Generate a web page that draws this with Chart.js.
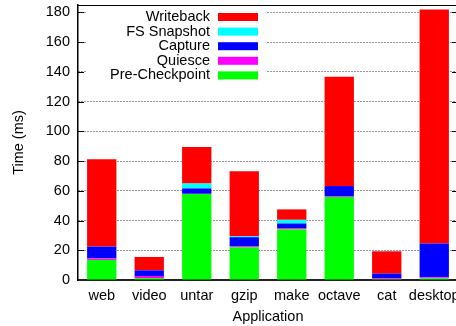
<!DOCTYPE html>
<html>
<head>
<meta charset="utf-8">
<script src="https://cdn.jsdelivr.net/npm/chart.js@4/dist/chart.umd.min.js"></script>
<style>
    html, body { margin: 0; padding: 0; background: #fff; overflow: hidden; }
    canvas { display: block; }
</style>
</head>
<body>
<canvas id="grafico" width="458" height="326"></canvas>
<script>
// Tempo de cada fase do checkpoint, por aplicação (ms)
const apps = ["web", "video", "untar", "gzip", "make", "octave", "cat", "desktop"];
const preCheckpoint = [13.5, 1.3, 57.8, 22.0, 34.2, 55.8, 0.6, 1.1];
const quiesce = [1.1, 1.4, 0.2, 0.7, 0.7, 0.5, 0.6, 0.7];
const capture = [7.9, 3.8, 3.6, 6.1, 3.1, 6.9, 3.1, 22.7];
const fsSnapshot = [0, 0, 3.3, 0.7, 2.5, 0, 0, 0];
const writeback = [58.8, 9.0, 24.6, 43.7, 7.0, 73.5, 15.0, 157.5];
const yTicks = [0, 20, 40, 60, 80, 100, 120, 140, 160, 180];

const fonte = "'Liberation Sans', Arial, sans-serif";
const tamanho = 14.5;

const series = [
    { label: "Pre-Checkpoint", data: preCheckpoint, cor: "#00ff00" },
    { label: "Quiesce", data: quiesce, cor: "#ff00ff" },
    { label: "Capture", data: capture, cor: "#0000ff" },
    { label: "FS Snapshot", data: fsSnapshot, cor: "#00ffff" },
    { label: "Writeback", data: writeback, cor: "#ff0000" }
];

// Legenda dentro do gráfico: fundo branco, texto alinhado à direita, caixa de cor ao lado
const legendaInterna = {
    id: "legendaInterna",
    afterDraw(chart) {
        const ctx = chart.ctx;
        ctx.save();
        ctx.fillStyle = "#fff";
        ctx.fillRect(86, 6, 180, 77);
        ctx.font = tamanho + "px " + fonte;
        ctx.textAlign = "right";
        ctx.textBaseline = "middle";
        const itens = series.slice().reverse();
        itens.forEach((s, i) => {
            const y = 17 + i * 14.6;
            ctx.fillStyle = "#000";
            ctx.fillText(s.label, 210, y);
            ctx.fillStyle = s.cor;
            ctx.fillRect(218, y - 4, 40, 8);
        });
        ctx.restore();
    }
};

// Moldura superior e marcas de escala para dentro
const moldura = {
    id: "moldura",
    afterDraw(chart) {
        const { ctx, chartArea } = chart;
        const y = chart.scales.y;
        ctx.save();
        ctx.strokeStyle = "#000";
        ctx.lineWidth = 1;
        ctx.beginPath();
        ctx.moveTo(chartArea.left, chartArea.top + 0.5);
        ctx.lineTo(chartArea.right, chartArea.top + 0.5);
        yTicks.forEach(v => {
            if (v === 0) return;
            const py = Math.round(y.getPixelForValue(v)) + 0.5;
            ctx.moveTo(chartArea.left, py);
            ctx.lineTo(chartArea.left + 6, py);
            ctx.moveTo(chartArea.right - 6, py);
            ctx.lineTo(chartArea.right, py);
        });
        ctx.stroke();
        ctx.restore();
    }
};

new Chart(document.getElementById("grafico"), {
    type: "bar",
    data: {
        labels: apps,
        datasets: series.map(s => ({
            label: s.label,
            data: s.data,
            backgroundColor: s.cor,
            borderWidth: 0,
            barPercentage: 0.617,
            categoryPercentage: 1
        }))
    },
    options: {
        responsive: false,
        animation: false,
        layout: { padding: { top: 5, left: 0, right: 0, bottom: 0 } },
        plugins: {
            legend: { display: false },
            tooltip: { enabled: false }
        },
        scales: {
            x: {
                stacked: true,
                grid: { display: false, drawTicks: false },
                border: { display: true, color: "#222", width: 2 },
                ticks: {
                    color: "#000",
                    font: { family: fonte, size: tamanho },
                    padding: 7,
                    maxRotation: 0,
                    autoSkip: false
                },
                title: {
                    display: true,
                    text: "Application",
                    color: "#000",
                    font: { family: fonte, size: tamanho },
                    padding: { top: 1.6, bottom: 0 }
                },
                afterFit(scale) {
                    scale.height = 46;
                    scale.paddingLeft = 0;
                    scale.paddingRight = 0;
                }
            },
            y: {
                stacked: true,
                min: 0,
                max: 185,
                afterBuildTicks(scale) {
                    scale.ticks = yTicks.map(v => ({ value: v }));
                },
                grid: {
                    color: ctx => ctx.tick && ctx.tick.value === 0 ? "rgba(0,0,0,0)" : "#333",
                    lineWidth: 1,
                    drawTicks: false
                },
                border: { display: true, color: "#000", width: 1.5, dash: [1, 2] },
                ticks: {
                    color: "#000",
                    font: { family: fonte, size: tamanho },
                    padding: 8
                },
                title: {
                    display: true,
                    text: "Time (ms)",
                    color: "#000",
                    font: { family: fonte, size: tamanho },
                    padding: { top: 10.6, bottom: 0 }
                },
                afterFit(scale) {
                    scale.width = 78;
                    scale.paddingTop = 0;
                    scale.paddingBottom = 0;
                }
            }
        }
    },
    plugins: [legendaInterna, moldura]
});
</script>
</body>
</html>
